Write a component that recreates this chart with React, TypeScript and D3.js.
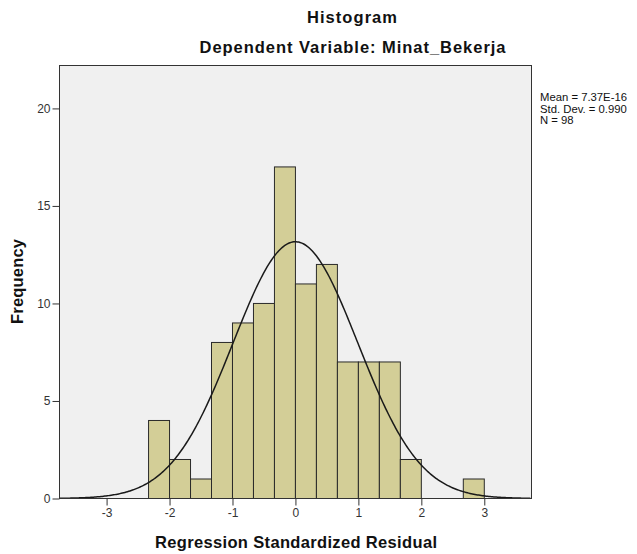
import * as d3 from 'd3'
import React, { useEffect, useRef } from 'react'

// histogram bins (width 1/3) and counts
const binStarts = [-7, -6, -5, -4, -3, -2, -1, 0, 1, 2, 3, 4, 5, 6, 7, 8].map(k => k / 3)
const counts = [4, 2, 1, 8, 9, 10, 17, 11, 12, 7, 7, 7, 2, 0, 0, 1]
const xTicks = [-3, -2, -1, 0, 1, 2, 3]
const yTicks = [0, 5, 10, 15, 20]
const statLines = ['Mean = 7.37E-16', 'Std. Dev. = 0.990', 'N = 98']

const mean = 7.37e-16
const sd = 0.99
const n = 98
const binWidth = 1 / 3

const App = () => {
    const ref = useRef<SVGSVGElement>(null)

    useEffect(() => {
        const w = 637
        const h = 554
        const plot = { left: 59.5, top: 65.5, right: 531.5, bottom: 498.5 }
        const font = 'Liberation Sans, Arial, sans-serif'

        const svg = d3.select(ref.current)
        svg.selectAll('*').remove()

        const x = d3.scaleLinear().domain([-3.748, 3.75]).range([plot.left, plot.right])
        const y = d3.scaleLinear().domain([0, 22.2]).range([plot.bottom, plot.top])

        // Plot background
        svg.append('rect')
            .attr('x', plot.left)
            .attr('y', plot.top)
            .attr('width', plot.right - plot.left)
            .attr('height', plot.bottom - plot.top)
            .attr('fill', '#f0f0f0')

        // Bars
        svg.append('g')
            .selectAll('rect')
            .data(counts.map((c, i) => ({ x0: binStarts[i], c })).filter(d => d.c > 0))
            .enter()
            .append('rect')
            .attr('x', d => x(d.x0))
            .attr('y', d => y(d.c))
            .attr('width', d => x(d.x0 + binWidth) - x(d.x0))
            .attr('height', d => y(0) - y(d.c))
            .attr('fill', '#d3ce97')
            .attr('stroke', '#2a2a2a')
            .attr('stroke-width', 1)

        // Normal curve
        const pts = d3.range(-3.748, 3.751, 0.02).map(v => ({
            v,
            f: n * binWidth * Math.exp(-0.5 * ((v - mean) / sd) ** 2) / (sd * Math.sqrt(2 * Math.PI))
        }))
        const line = d3.line<{ v: number, f: number }>()
            .x(d => x(d.v))
            .y(d => y(d.f))
            .curve(d3.curveLinear)
        svg.append('path')
            .attr('d', line(pts))
            .attr('fill', 'none')
            .attr('stroke', '#1a1a1a')
            .attr('stroke-width', 1.5)

        // Plot frame
        svg.append('rect')
            .attr('x', plot.left)
            .attr('y', plot.top)
            .attr('width', plot.right - plot.left)
            .attr('height', plot.bottom - plot.top)
            .attr('fill', 'none')
            .attr('stroke', '#333')
            .attr('stroke-width', 1)

        // Axes
        const xAxis = svg.append('g')
            .attr('transform', `translate(0,${plot.bottom})`)
            .call(d3.axisBottom(x).tickValues(xTicks).tickSize(7).tickPadding(3).tickFormat(d => String(d)))
        const yAxis = svg.append('g')
            .attr('transform', `translate(${plot.left},0)`)
            .call(d3.axisLeft(y).tickValues(yTicks).tickSize(7).tickPadding(2).tickFormat(d => String(d)))
        for (const ax of [xAxis, yAxis]) {
            ax.select('.domain').remove()
            ax.selectAll('line').attr('stroke', '#333')
            ax.selectAll('text')
                .attr('fill', '#333')
                .style('font-size', '12px')
                .style('font-family', font)
        }

        // Titles
        const title = (t: string, tx: number, ty: number, len: number) =>
            svg.append('text')
                .attr('x', tx)
                .attr('y', ty)
                .attr('text-anchor', 'middle')
                .attr('textLength', len)
                .style('font-size', '16.5px')
                .style('font-weight', 'bold')
                .style('font-family', font)
                .attr('fill', '#111')
                .text(t)
        title('Histogram', 352, 23, 90)
        title('Dependent Variable: Minat_Bekerja', 352.5, 53, 306)
        title('Regression Standardized Residual', 296, 548, 282)
        title('Frequency', 0, 0, 85)
            .attr('transform', `translate(22.5,281.5) rotate(-90)`)

        // Stats
        svg.append('g')
            .selectAll('text')
            .data(statLines)
            .enter()
            .append('text')
            .attr('x', 540)
            .attr('y', (d, i) => 101 + i * 11.5)
            .style('font-size', '11.3px')
            .style('font-family', font)
            .attr('fill', '#111')
            .text(d => d)

        svg.attr('width', w).attr('height', h)
    }, [])

    return <svg ref={ref} width={637} height={554} style={{ position: 'absolute', left: 0, top: 0 }} />
}

export default App
